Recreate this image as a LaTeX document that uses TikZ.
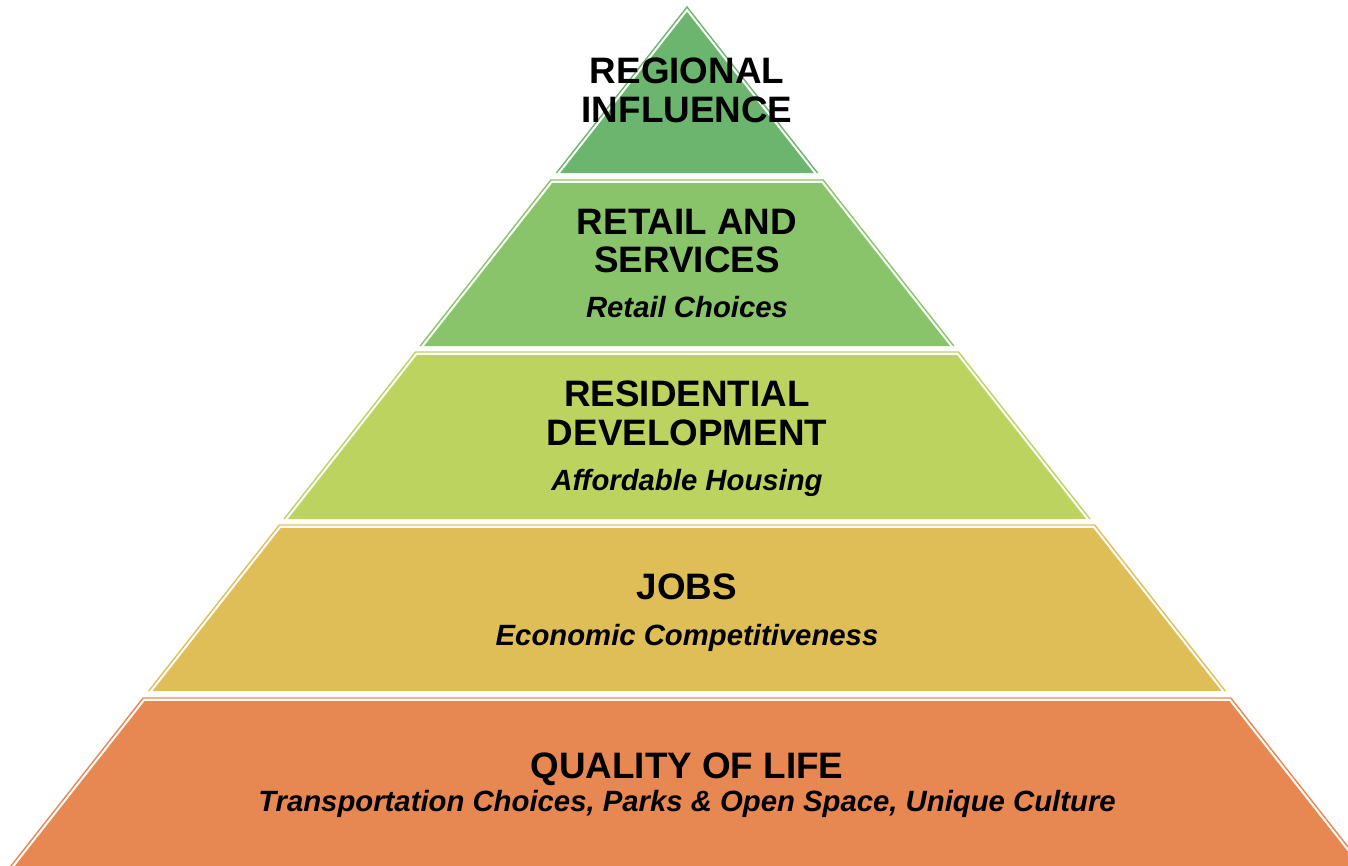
\documentclass[tikz,border=0pt]{standalone}
\usepackage{fontspec}
\setmainfont{Liberation Sans}
\definecolor{lone}{HTML}{6BB56E}
\definecolor{ltwo}{HTML}{8AC46A}
\definecolor{lthree}{HTML}{BCD35F}
\definecolor{lfour}{HTML}{DFBE57}
\definecolor{lfive}{HTML}{E78752}
\newcommand{\pyrlayer}[3]{%
  \pgfmathsetmacro{\xlt}{687-0.787*(#1-7)}%
  \pgfmathsetmacro{\xrt}{687+0.787*(#1-7)}%
  \pgfmathsetmacro{\xlb}{687-0.787*(#2-7)}%
  \pgfmathsetmacro{\xrb}{687+0.787*(#2-7)}%
  \pgfmathsetmacro{\yi}{max(#1+3,11.85)}%
  \pgfmathsetmacro{\xli}{687-0.787*(\yi-7)+3.82}%
  \pgfmathsetmacro{\xri}{687+0.787*(\yi-7)-3.82}%
  \draw[#3, line width=1.4, line join=miter] (\xlb,#2) -- (\xlt,#1) -- (\xrt,#1) -- (\xrb,#2);
  \fill[#3] (\xlb+3.82,#2) -- (\xli,\yi) -- (\xri,\yi) -- (\xrb-3.82,#2) -- cycle;
}
\tikzset{
  head/.style={anchor=base, font=\fontsize{36.8}{40}\selectfont\bfseries, inner sep=0},
  sub/.style={anchor=base, font=\fontsize{29.3}{33}\selectfont\bfseries\itshape, inner sep=0}
}
\begin{document}
\begin{tikzpicture}[x=1pt, y=-1pt]
\useasboundingbox (0,0) rectangle (1348,865);
\begin{scope}
\clip (0,0) rectangle (1348,865);
\pyrlayer{7}{173}{lone}
\pyrlayer{180}{346}{ltwo}
\pyrlayer{352}{519}{lthree}
\pyrlayer{525}{691}{lfour}
\pyrlayer{698}{870}{lfive}
\end{scope}
\node[head] (t1a) at (687,83) {REGIONAL};
\node[head] (t1b) at (687,122) {INFLUENCE};
\node[head] (t2a) at (687,234) {RETAIL AND};
\node[head] (t2b) at (687,272) {SERVICES};
\node[sub]  (t2c) at (687,317) {Retail Choices};
\node[head] (t3a) at (687,406) {RESIDENTIAL};
\node[head] (t3b) at (687,445) {DEVELOPMENT};
\node[sub]  (t3c) at (687,490) {Affordable Housing};
\node[head] (t4a) at (687,599) {JOBS};
\node[sub]  (t4b) at (687,645) {Economic Competitiveness};
\node[head] (t5a) at (687,778) {QUALITY OF LIFE};
\node[sub]  (t5b) at (687,811) {Transportation Choices, Parks \& Open Space, Unique Culture};
\end{tikzpicture}
\end{document}
